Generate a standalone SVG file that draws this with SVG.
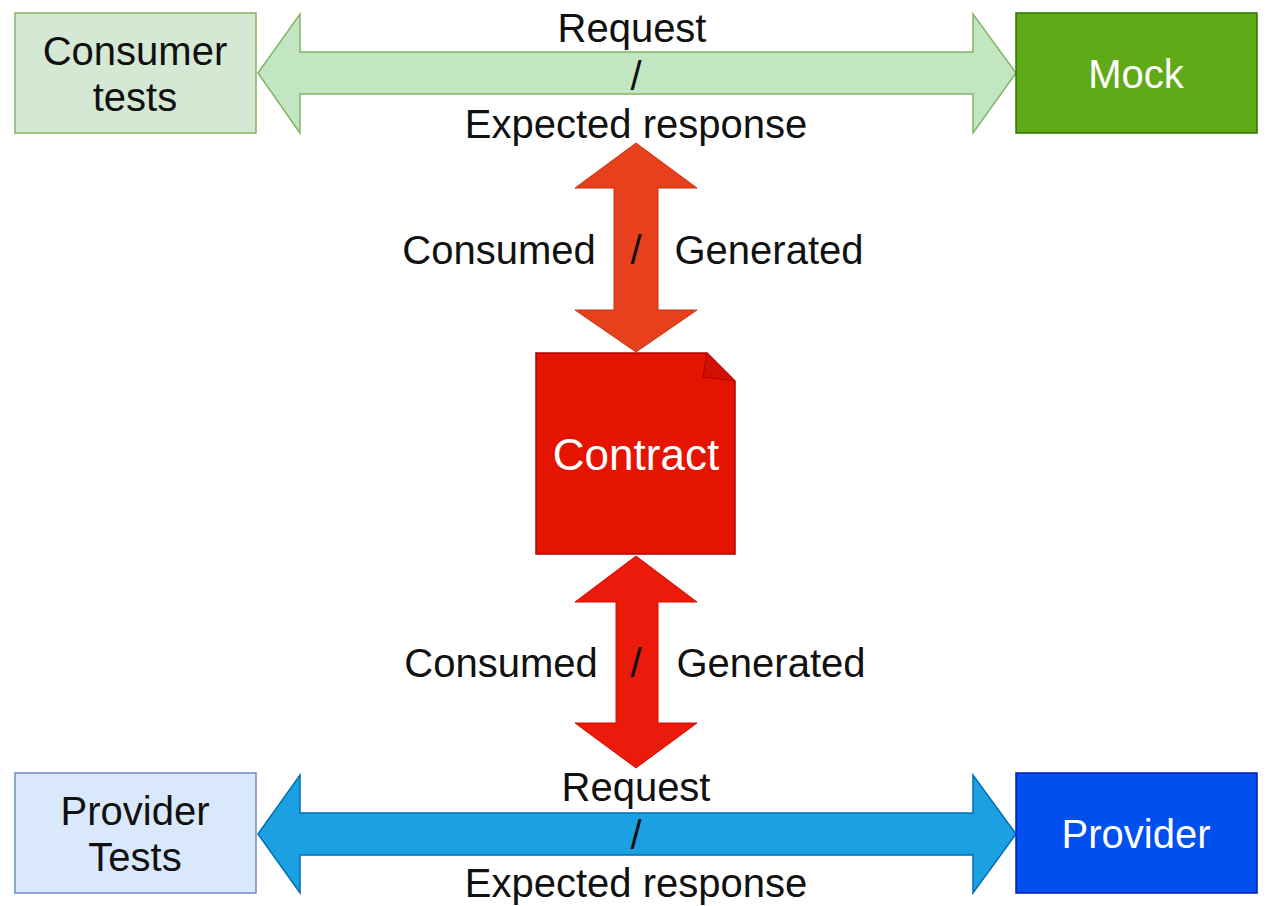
<svg xmlns="http://www.w3.org/2000/svg" width="1266" height="906" viewBox="0 0 1266 906">
<style>
  text { font-family: "Liberation Sans", Arial, sans-serif; font-size: 40px; text-anchor: middle; fill: #111; }
  .w { fill: #ffffff; }
</style>
<rect x="0" y="0" width="1266" height="906" fill="#ffffff"/>
<g id="connectors">
  <g id="arrow-top">
    <polygon points="258,73 300,14 300,52 973,52 973,14 1016,73 973,133 973,94 300,94 300,133" fill="#c3e6c2" stroke="#82b366" stroke-width="1.5"/>
    <text x="632" y="42">Request</text>
    <text x="636" y="90">/</text>
    <text x="636" y="138">Expected response</text>
  </g>
  <g id="arrow-mid-top">
    <polygon points="636,143 697,188 658,188 658,310 697,310 636,352 575,310 614,310 614,188 575,188" fill="#e6411c" stroke="#d03010" stroke-width="1"/>
    <text x="499" y="264">Consumed</text>
    <text x="636" y="264">/</text>
    <text x="769" y="264">Generated</text>
  </g>
  <g id="arrow-mid-bottom">
    <polygon points="636,556 697,602 658,602 658,723 697,723 636,768 575,723 616,723 616,602 575,602" fill="#ec1a0a" stroke="#d01000" stroke-width="1"/>
    <text x="501" y="677">Consumed</text>
    <text x="636" y="677">/</text>
    <text x="771" y="677">Generated</text>
  </g>
  <g id="arrow-bottom">
    <polygon points="258,834 300,775 300,813 973,813 973,775 1016,834 973,893 973,855 300,855 300,893" fill="#1ba1e2" stroke="#006eaf" stroke-width="1.5"/>
    <text x="636" y="801">Request</text>
    <text x="636" y="849">/</text>
    <text x="636" y="897">Expected response</text>
  </g>
</g>
<g id="consumer-tests">
  <rect x="15" y="13" width="241" height="120" fill="#d5e8d4" stroke="#82b366" stroke-width="1.5"/>
  <text x="135" y="65">Consumer</text>
  <text x="135" y="111">tests</text>
</g>
<g id="mock">
  <rect x="1016" y="13" width="241" height="120" fill="#60a917" stroke="#2d7600" stroke-width="1.5"/>
  <text class="w" x="1136" y="88">Mock</text>
</g>
<g id="contract">
  <path d="M536,353 L707,353 L735,381 L735,554 L536,554 Z" fill="#e51400" stroke="#b20000" stroke-width="1.5"/>
  <path d="M707,353 L703,377 L735,381" fill="#d01000" stroke="#b20000" stroke-width="1"/>
  <text class="w" x="636" y="470" style="font-size:44px">Contract</text>
</g>
<g id="provider-tests">
  <rect x="15" y="773" width="241" height="120" fill="#dae8fc" stroke="#6c8ebf" stroke-width="1.5"/>
  <text x="135" y="825">Provider</text>
  <text x="135" y="871">Tests</text>
</g>
<g id="provider">
  <rect x="1016" y="773" width="241" height="120" fill="#0050ef" stroke="#001dbc" stroke-width="1.5"/>
  <text class="w" x="1136" y="848">Provider</text>
</g>
</svg>
